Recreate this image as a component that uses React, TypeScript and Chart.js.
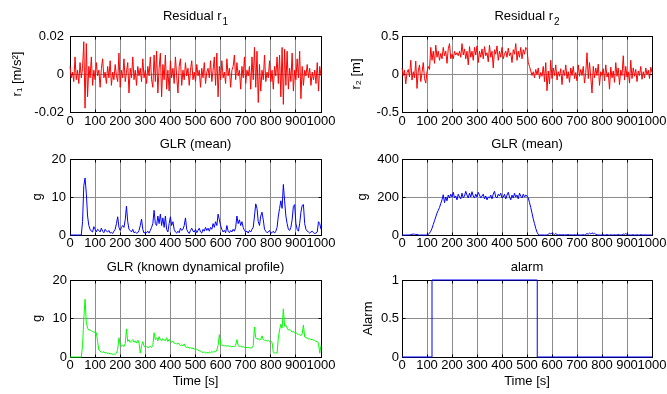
import React, { useEffect, useRef } from 'react';
import { Chart, registerables } from 'chart.js';

Chart.register(...registerables);

// ---------- data ----------
const sampleStep = 5; // seconds between samples

const residual1 = [
  0.004, -0.002, 0.001, -0.004, 0.009, -0.003, 0.002, -0.005, 0.006, -0.002,
  0.003, 0.017, -0.018, 0.016, -0.012, 0.004, -0.002, 0.009, -0.006, 0.002,
  -0.003, 0.006, -0.001, 0.002, -0.007, 0.003, 0.008, -0.002, 0.001, -0.005,
  0.004, -0.002, 0.007, -0.006, 0.001, -0.003, 0.005, -0.001, -0.004, 0.011,
  -0.007, 0.002, -0.002, 0.008, -0.004, 0.001, 0.006, -0.010, 0.003, -0.002,
  0.009, -0.003, 0.002, -0.006, 0.004, -0.001, 0.003, -0.004, 0.008, -0.002,
  0.002, -0.005, 0.004, -0.001, 0.009, -0.003, -0.007, 0.010, -0.004, 0.012,
  -0.010, 0.003, 0.011, -0.012, 0.005, -0.003, 0.010, -0.008, 0.002, -0.009,
  0.007, -0.002, 0.003, -0.005, 0.009, -0.001, -0.010, 0.004, 0.008, -0.006,
  0.002, -0.003, 0.006, -0.001, 0.003, -0.006, 0.002, 0.007, -0.003, 0.001,
  -0.004, 0.005, -0.001, 0.002, -0.007, 0.003, -0.002, 0.006, -0.005, 0.001,
  0.003, -0.002, 0.007, -0.004, 0.002, 0.009, -0.006, 0.011, -0.012, 0.004,
  -0.003, 0.007, -0.002, 0.001, -0.005, 0.008, -0.001, 0.003, -0.007, 0.002,
  0.004, 0.010, -0.003, 0.006, -0.001, 0.002, -0.008, 0.004, -0.002, 0.009,
  -0.005, 0.002, -0.001, 0.004, -0.008, 0.009, -0.003, 0.014, -0.007, 0.012,
  -0.015, 0.005, -0.009, 0.002, -0.003, 0.010, -0.004, 0.001, -0.002, 0.007,
  -0.004, 0.002, -0.008, 0.004, -0.001, 0.009, -0.005, 0.010, -0.012, 0.014,
  -0.016, 0.013, -0.006, 0.012, -0.008, 0.003, -0.004, 0.011, -0.009, 0.002,
  -0.003, 0.008, -0.002, 0.012, -0.013, 0.004, -0.006, 0.002, -0.001, 0.005,
  -0.002, 0.003, -0.006, 0.001, -0.003, 0.002, -0.005, 0.006, -0.009, 0.004,
  -0.001,
];

const residual2 = [
  0.08, -0.02, 0.05, -0.13, 0.02, 0.06, -0.04, 0.18, -0.08, 0.03,
  -0.05, 0.17, -0.19, 0.04, 0.12, -0.1, 0.02, 0.15, -0.06, -0.12,
  0.03, 0.1, 0.06, 0.35, 0.18, 0.3, 0.14, 0.38, 0.22, 0.3,
  0.18, 0.27, 0.2, 0.35, 0.24, 0.3, 0.14, 0.33, 0.4, 0.2,
  0.26, 0.2, 0.3, 0.25, 0.28, 0.24, 0.3, 0.22, 0.4, 0.25,
  0.33, 0.2, 0.3, 0.12, 0.36, 0.22, 0.3, 0.18, 0.35, 0.25,
  0.37, 0.15, 0.3, 0.22, 0.33, 0.2, 0.36, 0.24, 0.28, 0.16,
  0.38, 0.22, 0.3, 0.08, 0.32, 0.26, 0.37, 0.18, 0.3, 0.22,
  0.35, 0.2, 0.26, 0.3, 0.22, 0.34, 0.24, 0.28, 0.15, 0.32,
  0.26, 0.4, 0.18, 0.3, 0.22, 0.35, 0.2, 0.32, 0.26, 0.35,
  0.33, 0.15, 0.1, 0.04, -0.02, 0.03, -0.05, 0.06, -0.01, 0.08,
  -0.06, 0.02, -0.03, 0.1, -0.1, 0.15, -0.22, 0.04, -0.13, 0.18,
  -0.06, 0.08, -0.02, 0.12, -0.08, 0.03, -0.03, 0.07, -0.14, 0.05,
  -0.02, 0.12, -0.06, 0.03, -0.11, 0.08, -0.02, 0.1, -0.06, 0.02,
  -0.09, 0.12, -0.03, 0.06, -0.02, 0.1, -0.12, 0.02, 0.28, -0.06,
  0.15, -0.04, -0.25, 0.1, -0.05, 0.08, -0.02, 0.13, -0.15, 0.03,
  -0.02, 0.07, -0.09, 0.12, -0.04, 0.02, -0.2, 0.09, -0.05, 0.04,
  -0.11, 0.15, -0.03, 0.08, -0.14, 0.05, -0.02, 0.24, -0.08, 0.1,
  -0.04, 0.03, -0.12, 0.18, -0.06, 0.08, -0.03, 0.06, -0.1, 0.04,
  -0.02, 0.1, -0.07, 0.03, -0.05, 0.08, -0.01, 0.05, -0.06, 0.09,
  0.02,
];

const glrMean1 = [
  0, 0, 0, 0, 0, 0, 0, 0, 0, 0,
  3.5, 13, 15, 11, 5, 2.5, 1.5, 1, 0.8, 2.2,
  1.5, 0.8, 1.5, 1.2, 0.8, 1.8, 1, 0.6, 1.5, 1,
  0.8, 1.2, 0.5, 0.7, 0.4, 1, 1.5, 3, 4.8, 2,
  1.2, 2, 2.5, 2, 4, 7.6, 3.5, 1.5, 1.2, 0.8,
  1.5, 0.6, 0.8, 0.5, 0.6, 1.2, 2.5, 4.2, 1.5, 0.5,
  0.8, 0.6, 1, 0.5, 1.2, 2, 3, 6.5, 3, 2.5,
  5, 3, 5.5, 2.5, 4.5, 2, 5, 1.5, 0.8, 3,
  4.8, 2.5, 3.5, 1.5, 0.8, 0.5, 1, 0.6, 1.8, 1.2,
  1.5, 2.5, 4.5, 1.5, 0.8, 0.4, 1.2, 1.8, 1, 0.8,
  1.5, 0.6, 1.2, 1.8, 0.8, 0.5, 1.5, 1, 2, 1.2,
  1.8, 1, 2, 1.5, 3, 2, 3.5, 2.5, 5.5, 4,
  2.5, 1.5, 0.8, 1.2, 0.6, 2.5, 1, 0.6, 1.2, 0.8,
  1.5, 1, 2, 5, 3, 4, 2.5, 3.5, 2, 1.2,
  0.8, 1, 0.5, 1.2, 0.8, 1.5, 2, 5, 8.2, 7,
  3.5, 2.5, 5, 6, 4, 1.5, 1, 0.6, 0.8, 1.2,
  0.5, 0.6, 1, 0.5, 1, 2, 5, 7, 9, 7,
  13.3, 9, 5, 3, 1.5, 1.2, 2, 4, 7.5, 8,
  3, 1.5, 1, 3, 6, 7.8, 8, 3, 1.5, 1,
  0.8, 0.5, 0.8, 1, 0.6, 0.4, 0.5, 0.8, 3.5, 3,
  1.5,
];

const glrMean2 = [
  0, 0, 0, 0, 0, 0, 1, 2, 4, 5,
  4, 3, 2, 1, 0, 0, 0, 0, 0, 0,
  0, 2, 10, 20, 35, 55, 75, 95, 115, 130,
  145, 165, 185, 212, 170, 200, 180, 210, 195, 215,
  200, 225, 195, 205, 185, 215, 200, 190, 220, 195,
  205, 230, 210, 195, 220, 200, 228, 205, 195, 215,
  200, 225, 210, 195, 205, 215, 190, 205, 185, 200,
  195, 210, 190, 215, 230, 200, 195, 215, 205, 220,
  195, 200, 215, 190, 210, 225, 200, 185, 210, 195,
  220, 200, 210, 190, 220, 205, 195, 215, 200, 210,
  205, 195, 170, 145, 115, 85, 60, 35, 15, 3,
  0, 0, 0, 0, 0, 0, 0, 2, 10, 5,
  12, 6, 3, 8, 2, 0, 3, 1, 0, 2,
  0, 1, 0, 3, 0, 1, 0, 0, 2, 0,
  0, 0, 1, 0, 0, 2, 0, 3, 8, 4,
  10, 5, 12, 6, 9, 3, 1, 0, 0, 0,
  0, 1, 0, 0, 2, 0, 0, 1, 0, 0,
  2, 0, 0, 3, 1, 0, 0, 5, 3, 8,
  2, 0, 1, 0, 0, 2, 0, 0, 1, 0,
  0, 2, 0, 0, 1, 0, 0, 0, 1, 0,
  0,
];

const glrProfile = [
  0, 0, 0, 0, 0, 0, 0, 0, 0, 0,
  3, 10, 15, 9, 7.5, 7, 7, 6.8, 6.6, 6.5,
  6.4, 6.3, 4, 1.8, 1.5, 1.3, 1.2, 1.4, 1, 1.1,
  0.9, 1, 0.8, 0.9, 0.7, 0.8, 0.7, 1, 2, 5,
  3.2, 2.8, 3, 2.7, 3.5, 7.3, 4, 4.5, 3.8, 4.2,
  4.5, 3.8, 4.2, 3.6, 4.4, 3.6, 1, 3, 4, 2.8,
  2.5, 2.7, 2.4, 2.6, 2.8, 2.5, 3, 6.3, 4.5, 5,
  4.2, 5.3, 4.5, 4.2, 4.8, 4.4, 4.2, 5, 4, 4.6,
  4, 3.8, 4.1, 3.6, 3.5, 3.4, 3.6, 3.3, 3, 3.2,
  2.9, 3.4, 2.6, 2.5, 2.6, 2.3, 2.4, 2.2, 2.3, 2.1,
  2, 2, 1.8, 1.6, 1.5, 1.3, 1.2, 1.3, 1, 1.2,
  1, 1.3, 1.1, 1.4, 1.2, 1.5, 1.3, 1.8, 3, 5.8,
  3.3, 3, 3.1, 2.9, 3, 2.8, 3, 2.7, 2.8, 2.6,
  2.8, 2.7, 3, 4.5, 3, 2.7, 2.8, 2.6, 2.7, 2.5,
  2.6, 2.4, 2.5, 2.4, 2.3, 2.4, 3, 7.8, 5, 4.6,
  4.8, 4.4, 4.6, 5.5, 4.5, 4.3, 4.4, 4.1, 4.3, 4,
  4.1, 3.8, 1.2, 1, 1.1, 1, 5, 7, 8.5, 7.5,
  12.5, 8, 8.2, 7.5, 7, 7.2, 6.8, 6.5, 6.7, 6.3,
  6.4, 6, 5.9, 5.8, 5.6, 6, 8.3, 5.2, 5, 4.9,
  4.7, 4.8, 4.5, 4.6, 4.4, 4.3, 4.1, 4, 3.6, 1,
  3,
];

const alarmTimes = [0, 120, 541, 1000];
const alarmValues = [0, 1, 0, 0];

const xTickValues = [0, 100, 200, 300, 400, 500, 600, 700, 800, 900, 1000];
const xTickLabels = ['0', '100', '200', '300', '400', '500', '600', '700', '800', '900', '1000'];

const r1TickValues = [-0.02, 0, 0.02];
const r1TickLabels = ['-0.02', '0', '0.02'];
const r2TickValues = [-0.5, 0, 0.5];
const r2TickLabels = ['-0.5', '0', '0.5'];
const g20TickValues = [0, 10, 20];
const g20TickLabels = ['0', '10', '20'];
const g400TickValues = [0, 200, 400];
const g400TickLabels = ['0', '200', '400'];
const alarmTickValues = [0, 0.5, 1];
const alarmTickLabels = ['0', '0.5', '1'];

// ---------- styling / layout ----------
const FONT_FAMILY = '"Liberation Sans", Arial, Helvetica, sans-serif';
const FONT = { family: FONT_FAMILY, size: 13, weight: 'normal' as const, lineHeight: '16px' };
const GRID_COLOR = '#8c8c8c';

const toPoints = (values: number[]) => values.map((v, i) => ({ x: i * sampleStep, y: v }));

const framePlugin = {
  id: 'matlabFrame',
  beforeDatasetsDraw(chart: any) {
    const { ctx, chartArea } = chart;
    const al = (p: number) => Math.round(p - 0.5) + 0.5;
    const l = al(chartArea.left), r = al(chartArea.right), t = al(chartArea.top), b = al(chartArea.bottom);
    ctx.save();
    ctx.strokeStyle = '#000';
    ctx.lineWidth = 1;
    ctx.beginPath();
    ctx.rect(l, t, r - l, b - t);
    const xs = chart.scales.x, ys = chart.scales.y;
    const tl = 3;
    xs.ticks.forEach((tk: any) => {
      const px = al(xs.getPixelForValue(tk.value));
      ctx.moveTo(px, b); ctx.lineTo(px, b - tl);
      ctx.moveTo(px, t); ctx.lineTo(px, t + tl);
    });
    ys.ticks.forEach((tk: any) => {
      const py = al(ys.getPixelForValue(tk.value));
      ctx.moveTo(l, py); ctx.lineTo(l + tl, py);
      ctx.moveTo(r, py); ctx.lineTo(r - tl, py);
    });
    ctx.stroke();
    ctx.restore();
  },
  afterDraw(chart: any) {
    const opts = chart.options.plugins.matlabFrame || {};
    if (!opts.text) return;
    const { ctx, chartArea } = chart;
    ctx.save();
    ctx.fillStyle = '#000';
    ctx.textAlign = 'left';
    ctx.textBaseline = 'alphabetic';
    const mainFont = `normal 13px ${FONT_FAMILY}`;
    const subFont = `normal 10px ${FONT_FAMILY}`;
    ctx.font = mainFont;
    const wMain = ctx.measureText(opts.text).width;
    let wSub = 0;
    if (opts.sub) { ctx.font = subFont; wSub = ctx.measureText(opts.sub).width + 1; }
    const x0 = (chartArea.left + chartArea.right) / 2 - (wMain + wSub) / 2;
    ctx.font = mainFont;
    ctx.fillText(opts.text, x0, opts.baseline);
    if (opts.sub) {
      ctx.font = subFont;
      ctx.fillText(opts.sub, x0 + wMain + 1, opts.baseline + 5);
    }
    ctx.restore();
  },
};

type PanelSpec = {
  left: number; top: number; width: number; height: number;
  yAxisW: number; padRight: number; padTop: number; xAxisH: number;
  title: string; titleSub?: string; titleBaseline: number;
  yTitle: string; yTitlePad: number; yTickPad: number;
  yMin: number; yMax: number; yTicks: number[]; yLabels: string[];
  xTitle?: string; xTitlePadBottom?: number; xTickPad: number;
  points: { x: number; y: number }[]; color: string; stepped?: boolean;
};

const COL_L = { left: 0, width: 340, yAxisW: 70, padRight: 19 };
const COL_R = { left: 340, width: 327, yAxisW: 62, padRight: 15 };
const ROW_1 = { top: 0, height: 134, padTop: 36, xAxisH: 22, titleBaseline: 20, xTickPad: 1 };
const ROW_2 = { top: 134, height: 122, padTop: 25, xAxisH: 21, titleBaseline: 14, xTickPad: 0 };
const ROW_3 = { top: 256, height: 138, padTop: 24, xAxisH: 37, titleBaseline: 15, xTickPad: 0 };

const panels: PanelSpec[] = [
  { ...COL_L, ...ROW_1, title: 'Residual r', titleSub: '1', yTitle: 'r\u2081 [m/s\u00b2]', yTitlePad: 9, yTickPad: 6,
    yMin: -0.02, yMax: 0.02, yTicks: r1TickValues, yLabels: r1TickLabels, points: toPoints(residual1), color: '#ff0000' },
  { ...COL_R, ...ROW_1, title: 'Residual r', titleSub: '2', yTitle: 'r\u2082 [m]', yTitlePad: 8.5, yTickPad: 3,
    yMin: -0.5, yMax: 0.5, yTicks: r2TickValues, yLabels: r2TickLabels, points: toPoints(residual2), color: '#ff0000' },
  { ...COL_L, ...ROW_2, title: 'GLR (mean)', yTitle: 'g', yTitlePad: 29.5, yTickPad: 4,
    yMin: 0, yMax: 20, yTicks: g20TickValues, yLabels: g20TickLabels, points: toPoints(glrMean1), color: '#0000ff' },
  { ...COL_R, ...ROW_2, title: 'GLR (mean)', yTitle: 'g', yTitlePad: 14, yTickPad: 3,
    yMin: 0, yMax: 400, yTicks: g400TickValues, yLabels: g400TickLabels, points: toPoints(glrMean2), color: '#0000ff' },
  { ...COL_L, ...ROW_3, title: 'GLR (known dynamical profile)', yTitle: 'g', yTitlePad: 29.5, yTickPad: 3,
    yMin: 0, yMax: 20, yTicks: g20TickValues, yLabels: g20TickLabels, points: toPoints(glrProfile), color: '#00ff00',
    xTitle: 'Time [s]', xTitlePadBottom: 4.5 },
  { ...COL_R, ...ROW_3, title: 'alarm', yTitle: 'Alarm', yTitlePad: 20.5, yTickPad: 3,
    yMin: 0, yMax: 1, yTicks: alarmTickValues, yLabels: alarmTickLabels,
    points: alarmTimes.map((t, i) => ({ x: t, y: alarmValues[i] })), color: '#0000ff', stepped: true,
    xTitle: 'Time [s]', xTitlePadBottom: 4.5 },
];

function Panel({ spec }: { spec: PanelSpec }) {
  const ref = useRef<HTMLCanvasElement | null>(null);
  useEffect(() => {
    const canvas = ref.current;
    if (!canvas) return;
    const chart = new Chart(canvas, {
      type: 'line',
      data: {
        datasets: [{
          data: spec.points,
          borderColor: spec.color,
          borderWidth: 1,
          pointRadius: 0,
          tension: 0,
          fill: false,
          clip: false,
          stepped: spec.stepped ? 'before' : false,
        }],
      },
      options: {
        animation: false,
        responsive: false,
        devicePixelRatio: 1,
        events: [],
        layout: { padding: { left: 0, right: spec.padRight, top: spec.padTop, bottom: 0 } },
        plugins: {
          legend: { display: false },
          tooltip: { enabled: false },
          title: { display: false },
          matlabFrame: { text: spec.title, sub: spec.titleSub, baseline: spec.titleBaseline },
        },
        scales: {
          x: {
            type: 'linear',
            min: 0,
            max: 1000,
            afterBuildTicks: (s: any) => { s.ticks = xTickValues.map((v) => ({ value: v })); },
            afterFit: (s: any) => { s.height = spec.xAxisH; s.paddingLeft = 0; s.paddingRight = 0; },
            ticks: {
              autoSkip: false,
              maxRotation: 0,
              minRotation: 0,
              padding: spec.xTickPad,
              color: '#000',
              font: FONT,
              callback: (_v: any, i: number) => xTickLabels[i],
            },
            grid: { color: GRID_COLOR, lineWidth: 1, drawTicks: false },
            border: { display: true, color: '#000', width: 1 },
            title: {
              display: !!spec.xTitle,
              text: spec.xTitle || '',
              color: '#000',
              font: FONT,
              padding: { top: 0, bottom: spec.xTitlePadBottom || 0 },
            },
          },
          y: {
            type: 'linear',
            min: spec.yMin,
            max: spec.yMax,
            afterBuildTicks: (s: any) => { s.ticks = spec.yTicks.map((v) => ({ value: v })); },
            afterFit: (s: any) => { s.width = spec.yAxisW; s.paddingTop = 0; s.paddingBottom = 0; },
            ticks: {
              autoSkip: false,
              padding: spec.yTickPad,
              color: '#000',
              font: FONT,
              callback: (_v: any, i: number) => spec.yLabels[i],
            },
            grid: { color: GRID_COLOR, lineWidth: 1, drawTicks: false },
            border: { display: true, color: '#000', width: 1 },
            title: {
              display: true,
              text: spec.yTitle,
              color: '#000',
              font: FONT,
              padding: { top: spec.yTitlePad, bottom: 0 },
            },
          },
        },
      } as any,
      plugins: [framePlugin],
    });
    return () => chart.destroy();
  }, [spec]);
  return (
    <canvas
      ref={ref}
      width={spec.width}
      height={spec.height}
      style={{ position: 'absolute', left: spec.left, top: spec.top, width: spec.width, height: spec.height, display: 'block' }}
    />
  );
}

export default function App() {
  return (
    <div style={{ position: 'absolute', left: 0, top: 0, width: 667, height: 394, background: '#fff', overflow: 'hidden' }}>
      {panels.map((p, i) => (
        <Panel key={i} spec={p} />
      ))}
    </div>
  );
}
